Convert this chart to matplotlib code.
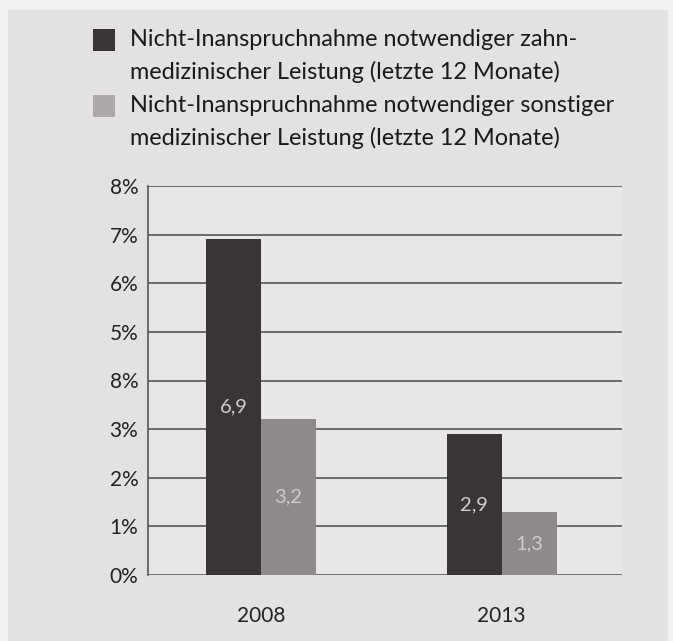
import numpy as np
import matplotlib.pyplot as plt
from matplotlib.patches import Rectangle

years = ["2008", "2013"]
zahn = [6.9, 2.9]
sonstig = [3.2, 1.3]
yticks = [0, 1, 2, 3, 4, 5, 6, 7, 8]
# the original labels the 4% line as "8%"
ytick_labels = ["0%", "1%", "2%", "3%", "8%", "5%", "6%", "7%", "8%"]
legend_labels = ["Nicht-Inanspruchnahme notwendiger zahn-\nmedizinischer Leistung (letzte 12 Monate)",
                 "Nicht-Inanspruchnahme notwendiger sonstiger\nmedizinischer Leistung (letzte 12 Monate)"]

dark = "#3a3436"
light = "#8e898b"
plt.rcParams['font.family'] = ['Lato', 'DejaVu Sans']

fig = plt.figure(figsize=(6.73, 6.41), dpi=100)
fig.patch.set_facecolor("#f3f2f3")
fig.patches.append(Rectangle((8/673, 0), 660/673, 631/641, transform=fig.transFigure,
                             facecolor="#e4e1e4", edgecolor="none", zorder=-5))

ax = fig.add_axes([148/673, 1-575/641, 474/673, 389/641])
ax.set_zorder(2)
ax.set_facecolor("#e9e6e9")
x = np.arange(len(years))
w = 0.228
b1 = ax.bar(x - w/2, zahn, w, color=dark, zorder=3)
b2 = ax.bar(x + w/2, sonstig, w, color=light, zorder=3)
for bars, vals in [(b1, zahn), (b2, sonstig)]:
    for r, v in zip(bars, vals):
        ax.text(r.get_x() + r.get_width()/2, v/2, str(v).replace(".", ","),
                ha="center", va="center", color="#cfcccf", fontsize=14.5, zorder=4)

ax.set_xlim(-0.47, 1.5)
ax.set_ylim(0, 8)
ax.set_yticks(yticks)
ax.set_yticklabels(ytick_labels, fontsize=15, color="#222222")
ax.set_xticks(x)
ax.set_xticklabels(years, fontsize=15, color="#222222")
ax.tick_params(length=0)
ax.tick_params(axis="y", pad=7)
ax.tick_params(axis="x", pad=22)
ax.grid(axis="y", color="#4a4a4a", linewidth=1.1, zorder=1)
for s in ["top", "right", "bottom"]:
    ax.spines[s].set_visible(False)
ax.spines["left"].set_color("#555555")
ax.spines["left"].set_linewidth(1.2)

# legend drawn by hand, one line at a time
line_y = [40, 72, 106, 138]
k = 0
for lab, c in zip(legend_labels, [dark, "#aca8ab"]):
    yc = line_y[k]
    fig.patches.append(Rectangle((93/673, 1 - (yc + 11)/641), 22/673, 22/641,
                                 transform=fig.transFigure, facecolor=c, edgecolor="none"))
    for part in lab.split("\n"):
        fig.text(130/673, 1 - line_y[k]/641, part, ha="left", va="center",
                 fontsize=16.9, color="#1a1a1a")
        k += 1

fig.savefig("out.png", dpi=100, facecolor=fig.get_facecolor())
